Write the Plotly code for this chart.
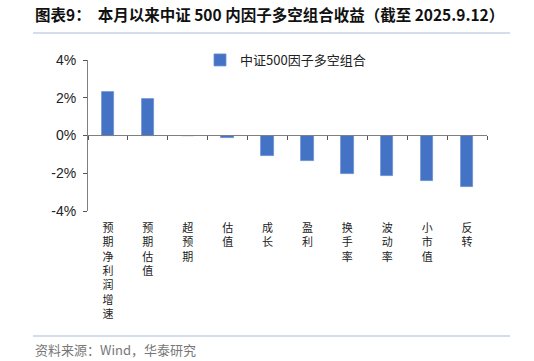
import plotly.graph_objects as go

categories = ["预期净利润增速", "预期估值", "超预期", "估值", "成长", "盈利", "换手率", "波动率", "小市值", "反转"]
values = [2.30, 1.95, -0.03, -0.14, -1.10, -1.35, -2.04, -2.16, -2.43, -2.73]
series_name = "中证500因子多空组合"
yticks = [-4, -2, 0, 2, 4]

W, H = 534, 361
L, R, T, B = 88, 487, 60, 211
pw, ph = R - L, B - T

def px(x):
    return (x - L) / pw

def py(y):
    return (B - y) / ph

labels = ["<br>".join(list(c)) for c in categories]

fig = go.Figure()
fig.add_trace(go.Bar(
    x=list(range(len(categories))), y=values, name=series_name,
    marker=dict(color="#4472C4", line=dict(color="#6a8fd6", width=0.8)),
    width=0.31, showlegend=True,
))
# invisible trace for the axis line at zero
fig.add_trace(go.Scatter(x=[-0.5, 9.5], y=[0, 0], xaxis="x2", mode="lines",
                         line=dict(color="rgba(0,0,0,0)"), showlegend=False, hoverinfo="skip"))

fig.update_layout(
    width=W, height=H,
    margin=dict(l=L, r=W - R, t=T, b=H - B, pad=0),
    paper_bgcolor="white", plot_bgcolor="white",
    font=dict(family="Noto Sans CJK SC, Arial", color="#000"),
    showlegend=True,
    legend=dict(x=px(200), y=py(45), xanchor="left", yanchor="top",
                font=dict(size=13, color="#222", family="Noto Sans CJK SC"),
                bgcolor="rgba(0,0,0,0)", itemwidth=30, traceorder="normal"),
    xaxis=dict(range=[-0.5, 9.5], tickvals=list(range(len(categories))), ticktext=labels,
               showline=False, showgrid=False, zeroline=False, ticks="",
               tickfont=dict(size=11, color="#222", family="Noto Sans CJK SC"),
               ticklabelstandoff=9),
    xaxis2=dict(range=[-0.5, 9.5], overlaying="x", anchor="free", position=py(135),
                side="bottom", showline=True, linecolor="#7f7f7f", linewidth=1.3,
                ticks="outside", ticklen=4, tickcolor="#555", tickwidth=1,
                tickvals=[i - 0.5 for i in range(len(categories) + 1)],
                showticklabels=False, showgrid=False, zeroline=False),
    yaxis=dict(range=[-4, 4], tickvals=yticks, ticktext=[f"{v}%" for v in yticks],
               showline=True, linecolor="#7f7f7f", linewidth=1,
               ticks="outside", ticklen=4, tickcolor="#555",
               showgrid=False, zeroline=False, ticklabelstandoff=4,
               tickfont=dict(size=14, color="#222", family="Liberation Sans, Arial")),
    bargap=0,
)

# title
fig.add_annotation(text="<b>图表9：  本月以来中证 500 内因子多空组合收益（截至 2025.9.12）</b>",
                   xref="paper", yref="paper", x=px(33), y=py(14),
                   xanchor="left", yanchor="middle", showarrow=False,
                   font=dict(size=15.5, color="#111", family="Noto Sans CJK SC"))
# source
fig.add_annotation(text="资料来源：Wind，华泰研究",
                   xref="paper", yref="paper", x=px(33), y=py(349),
                   xanchor="left", yanchor="middle", showarrow=False,
                   font=dict(size=13, color="#777", family="Noto Sans CJK SC"))
for yy in (33, 336):
    fig.add_shape(type="line", xref="paper", yref="paper",
                  x0=px(33), x1=px(510), y0=py(yy), y1=py(yy),
                  line=dict(color="#a9bcd6", width=1.2))

fig.write_html("out.html")
